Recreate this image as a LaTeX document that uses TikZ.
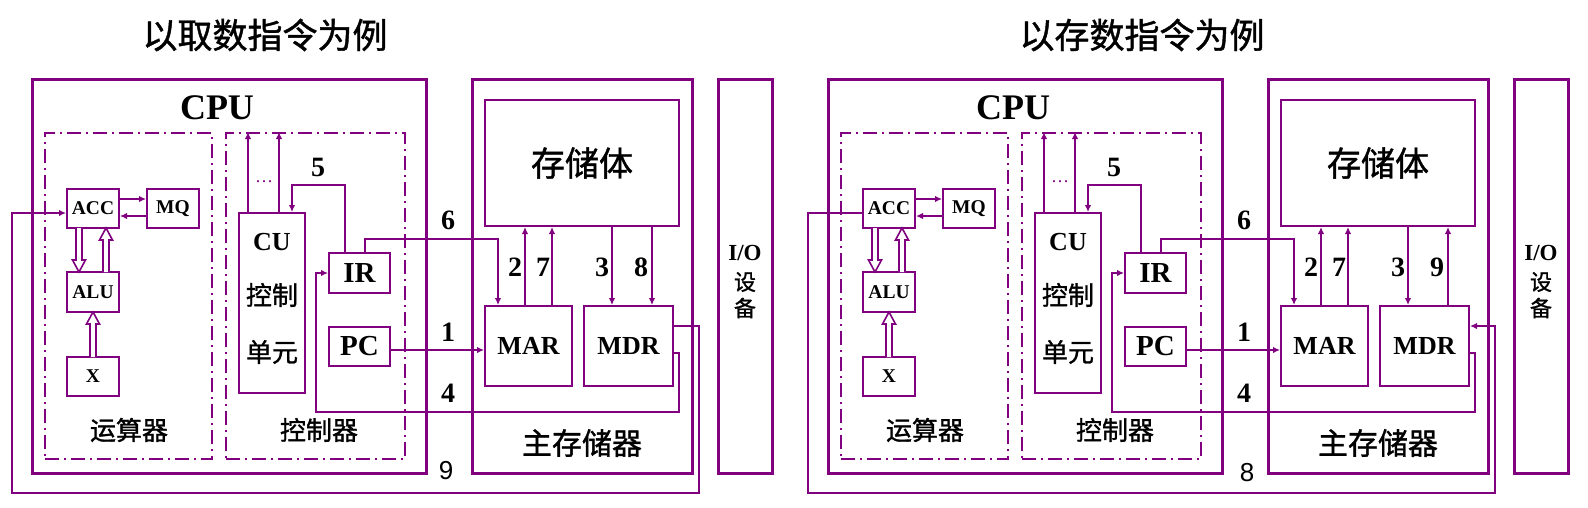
\documentclass[tikz,border=0pt]{standalone}
\usepackage{fontspec}
\setmainfont{Liberation Serif}
\newfontfamily\cjk{Noto Sans CJK SC}[FakeBold=1.2]
\newfontfamily\arialf{Liberation Sans}
\usetikzlibrary{arrows.meta}
\definecolor{pur}{RGB}{128,0,128}
\tikzset{
  obox/.style={draw=pur, line width=3pt, inner sep=0pt},
  ibox/.style={draw=pur, line width=2pt, inner sep=0pt},
  ddbox/.style={draw=pur, line width=2pt, inner sep=0pt, dash pattern=on 14pt off 5pt on 2pt off 5pt},
  wire/.style={draw=pur, line width=2pt},
  arr/.style={wire, -{Latex[length=7pt,width=6.5pt]}},
  hol/.style={draw=pur, line width=1.6pt, fill=white, line join=miter},
  sm/.style={font=\bfseries\fontsize{19.5}{20}\selectfont},
  mid/.style={font=\bfseries\fontsize{26}{26}\selectfont},
  big/.style={font=\bfseries\fontsize{29}{29}\selectfont},
  num/.style={font=\bfseries\fontsize{28}{28}\selectfont},
  cjka/.style={font=\cjk\fontsize{26}{26}\selectfont},
  cjkb/.style={font=\cjk\fontsize{30}{30}\selectfont},
  cjkc/.style={font=\cjk\fontsize{34}{34}\selectfont},
  ttl/.style={font=\cjk\fontsize{35}{35}\selectfont},
  bnum/.style={font=\arialf\fontsize{26}{26}\selectfont},
}
\newcommand\hollowarr[4]{\draw[hol] (#1-3,#2) -- (#1-3,#3) -- (#1-6.5,#3) -- (#1,#4) -- (#1+6.5,#3) -- (#1+3,#3) -- (#1+3,#2);}
\newcommand\drawhalf{%
  % outer boxes
  \node[obox, minimum width=394pt, minimum height=394pt] (cpu) at (229,276) {};
  \node[font=\bfseries\fontsize{36}{36}\selectfont] (cpulab) at (217,108) {CPU};
  \node[obox, minimum width=220pt, minimum height=394pt] (mem) at (582,276) {};
  \node[obox, minimum width=54pt, minimum height=394pt] (io) at (745,276) {};
  \node[font=\bfseries\fontsize{23}{23}\selectfont] (iolab) at (745,253) {I/O};
  \node[font=\cjk\fontsize{22}{22}\selectfont] (iolab2) at (745,282) {设};
  \node[font=\cjk\fontsize{22}{22}\selectfont] (iolab3) at (745,308) {备};
  % dash-dot units
  \node[ddbox, minimum width=167pt, minimum height=326pt] (aluunit) at (128.5,296) {};
  \node[ddbox, minimum width=179pt, minimum height=326pt] (ctrlunit) at (315.5,296) {};
  \node[cjka] (alulab) at (129,430) {运算器};
  \node[cjka] (ctrllab) at (319,430) {控制器};
  % arithmetic unit
  \node[ibox, sm, minimum width=52pt, minimum height=39pt] (acc) at (93,208.5) {ACC};
  \node[ibox, sm, minimum width=52pt, minimum height=39pt] (mq) at (173,208.5) {MQ};
  \node[ibox, sm, minimum width=52pt, minimum height=40pt] (alu) at (93,292) {ALU};
  \node[ibox, sm, minimum width=52pt, minimum height=39pt] (x) at (93,376.5) {X};
  \draw[arr] ([yshift=9.5pt]acc.east) -- ([yshift=9.5pt]mq.west);
  \draw[arr] ([yshift=-7.5pt]mq.west) -- ([yshift=-7.5pt]acc.east);
  \hollowarr{79}{228}{260}{272}
  \hollowarr{106}{272}{240}{228}
  \hollowarr{93}{357}{324}{312}
  % control unit
  \node[ibox, minimum width=66pt, minimum height=180pt] (cu) at (272,303) {};
  \node[mid] (culab) at (272,242) {CU};
  \node[cjka] (culab2) at (272,295) {控制};
  \node[cjka] (culab3) at (272,352) {单元};
  \node[ibox, big, minimum width=61pt, minimum height=40pt] (ir) at (359.5,273) {IR};
  \node[ibox, big, minimum width=61pt, minimum height=39pt] (pc) at (359.5,346.5) {PC};
  \draw[arr] ([xshift=-24pt]cu.north) -- ([xshift=-24pt]cu.north |- ctrlunit.north);
  \draw[arr] ([xshift=7pt]cu.north) -- ([xshift=7pt]cu.north |- ctrlunit.north);
  \node[text=pur, font=\fontsize{18}{18}\selectfont] (dots) at (264,182) {…};
  \draw[arr] ([xshift=-14.5pt]ir.north) -- ++(0,-67) -| ([xshift=20pt]cu.north);
  \node[num] (n5) at (318,167) {5};
  % memory
  \node[ibox, cjkc, minimum width=194pt, minimum height=126pt] (body) at (582,163) {存储体};
  \node[ibox, mid, minimum width=87pt, minimum height=80pt] (mar) at (528.5,346) {MAR};
  \node[ibox, mid, minimum width=89pt, minimum height=80pt] (mdr) at (628.5,346) {MDR};
  \node[cjkb] (memlab) at (582,443) {主存储器};
  % connectors
  \draw[arr] ([xshift=5.5pt]ir.north) -- ++(0,-13) -| ([xshift=-30.5pt]mar.north);
  \node[num] (n6) at (448,220) {6};
  \draw[arr] ([yshift=-3.5pt]pc.east) -- ([yshift=-3.5pt]pc.east -| mar.west);
  \node[num] (n1) at (448,332) {1};
  \draw[arr] ([xshift=-3.5pt]mar.north) -- ([xshift=-3.5pt]mar.north |- body.south);
  \draw[arr] ([xshift=23.5pt]mar.north) -- ([xshift=23.5pt]mar.north |- body.south);
  \node[num] (n2) at (515,267) {2};
  \node[num] (n7) at (543,267) {7};
  \draw[arr] ([xshift=-16.5pt]mdr.north |- body.south) -- ([xshift=-16.5pt]mdr.north);
  \node[num] (n3) at (602,267) {3};
  \coordinate (c4) at (316,412);
  \draw[arr] ([yshift=-7pt]mdr.east) -- ++(5,0) |- (c4) |- (ir.west);
  \node[num] (n4) at (448,393) {4};
  \coordinate (b1) at (699,493);
  \coordinate (b2) at (12,493);
}
\begin{document}
\begin{tikzpicture}[x=1pt,y=-1pt]
\useasboundingbox (0,0) rectangle (1588,507);
\node[ttl] (title1) at (265,35) {以取数指令为例};
\node[ttl] (title2) at (1142,35) {以存数指令为例};
\begin{scope}[name prefix=L-]
  \drawhalf
  \draw[arr] ([xshift=23.5pt]mdr.north |- body.south) -- ([xshift=23.5pt]mdr.north);
  \node[num] (n8) at (641,267) {8};
  \draw[arr] ([yshift=20pt]mdr.east) -| (b1) -- (b2) |- ([yshift=-4.5pt]acc.west);
  \node[bnum] (n9) at (446,471) {9};
\end{scope}
\begin{scope}[xshift=796pt, name prefix=R-]
  \drawhalf
  \draw[arr] ([xshift=23.5pt]mdr.north) -- ([xshift=23.5pt]mdr.north |- body.south);
  \node[num] (n9) at (641,267) {9};
  \draw[arr] ([yshift=-4.5pt]acc.west) -| (b2) -- (b1) |- ([yshift=20pt]mdr.east);
  \node[bnum] (n8) at (451,473) {8};
\end{scope}
\end{tikzpicture}
\end{document}
